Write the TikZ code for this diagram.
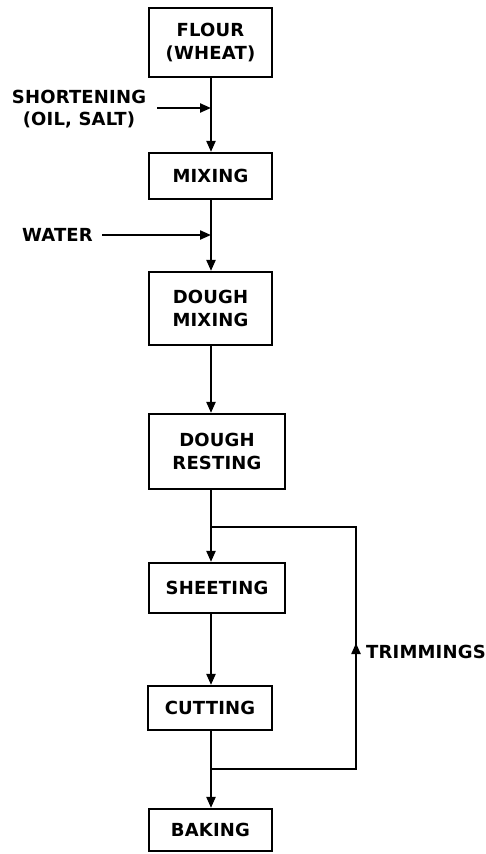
\documentclass[tikz,border=0pt]{standalone}
\usepackage{fontspec}
\setmainfont{DejaVu Sans}[LetterSpace=1]
\usetikzlibrary{arrows.meta,calc}
\tikzset{
  stage/.style={draw, line width=2.2pt, inner sep=0pt, align=center,
    font=\bfseries\fontsize{18}{23}\selectfont},
  flow/.style={line width=2.2pt},
  arr/.style={flow, -{Triangle[length=11pt,width=9pt]}},
  lbl/.style={inner sep=0pt, align=center, font=\bfseries\fontsize{18}{22}\selectfont},
}
\begin{document}
\begin{tikzpicture}[x=1pt,y=-1pt]
  \useasboundingbox (0,0) rectangle (485,854);
  % process stages
  \node[stage, minimum width=123pt, minimum height=69pt] (flour)   at (210.5,42.5) {FLOUR\\(WHEAT)};
  \node[stage, minimum width=123pt, minimum height=46pt] (mixing)  at (210.5,176)  {MIXING};
  \node[stage, minimum width=123pt, minimum height=73pt] (dmix)    at (210.5,308.5) {DOUGH\\MIXING};
  \node[stage, minimum width=136pt, minimum height=75pt] (drest)   at (217,451.5)  {DOUGH\\RESTING};
  \node[stage, minimum width=136pt, minimum height=50pt] (sheet)   at (217,588)    {SHEETING};
  \node[stage, minimum width=124pt, minimum height=44pt] (cut)     at (210,708)    {CUTTING};
  \node[stage, minimum width=123pt, minimum height=42pt] (bake)    at (210.5,830)  {BAKING};
  % main flow line
  \coordinate (sp) at (211,0);
  \coordinate (j1) at (211,108);
  \coordinate (j2) at (211,235);
  \coordinate (jt) at (211,527);
  \coordinate (jb) at (211,769);
  \coordinate (rt) at (356,527);
  \coordinate (rb) at (356,769);
  \coordinate (ra) at (356,643);
  \draw[arr] (flour.south -| sp) -- (mixing.north -| sp);
  \draw[arr] (mixing.south -| sp) -- (dmix.north -| sp);
  \draw[arr] (dmix.south -| sp) -- (drest.north -| sp);
  \draw[arr] (drest.south -| sp) -- (sheet.north -| sp);
  \draw[arr] (sheet.south -| sp) -- (cut.north -| sp);
  \draw[arr] (cut.south -| sp) -- (bake.north -| sp);
  % side inputs
  \node[lbl] (short) at (79,109) {SHORTENING\\(OIL, SALT)};
  \coordinate (s0) at (157,108);
  \draw[arr] (s0) -- (j1);
  \node[lbl, anchor=east] (water) at (93,235) {WATER};
  \coordinate (w0) at (102,235);
  \draw[arr] (w0) -- (j2);
  % trimmings recycle loop
  \draw[flow] (jb) -- (rb) -- (rt) -- (jt);
  \draw[arr] (rb) -- (ra);
  \node[lbl, anchor=west] (trim) at (366,652) {TRIMMINGS};
\end{tikzpicture}
\end{document}
